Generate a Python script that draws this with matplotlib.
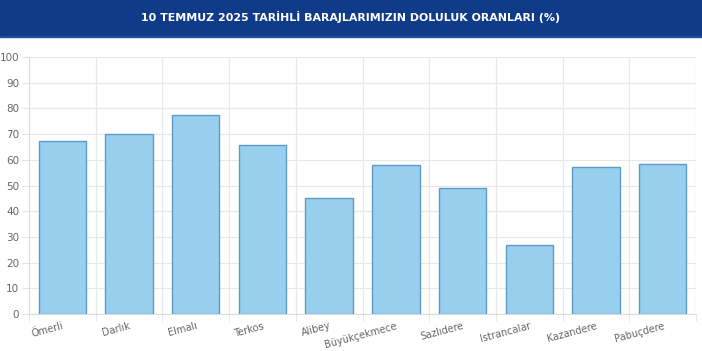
import numpy as np
import matplotlib
matplotlib.use('Agg')
import matplotlib.pyplot as plt
import matplotlib.transforms as mtransforms

title = '10 TEMMUZ 2025 TARİHLİ BARAJLARIMIZIN DOLULUK ORANLARI (%)'
dams = ['Ömerli', 'Darlık', 'Elmalı', 'Terkos', 'Alibey', 'Büyükçekmece',
        'Sazlıdere', 'Istrancalar', 'Kazandere', 'Pabuçdere']
fill_pct = [67.3, 69.9, 77.4, 65.6, 45.1, 58.0, 49.0, 26.8, 57.2, 58.4]
y_ticks = list(range(0, 101, 10))


def main():
    fig = plt.figure(figsize=(7.02, 3.51), dpi=100)
    fig.patch.set_facecolor('white')

    # title banner
    fig.patches.append(plt.Rectangle((0, 1 - 36 / 351), 1, 36 / 351,
                                     transform=fig.transFigure,
                                     color='#0f3b88', zorder=0))
    fig.patches.append(plt.Rectangle((0, 1 - 37 / 351), 1, 1.5 / 351,
                                     transform=fig.transFigure,
                                     color='#1d4f9e', zorder=1))
    fig.text(0.5, 1 - 17 / 351, title, color='white', fontsize=7.9,
             fontweight='bold', ha='center', va='center')

    ax = fig.add_axes([29 / 702, 37 / 351, 667 / 702, 257 / 351])
    x = np.arange(len(dams))
    ax.bar(x, fill_pct, width=0.71, color='#99cfee', edgecolor='#5b9cc4',
           linewidth=1.0, zorder=3)

    ax.set_xlim(-0.5, len(dams) - 0.5)
    ax.set_ylim(0, 100)
    ax.set_yticks(y_ticks)
    ax.set_xticks(x)
    ax.set_xticklabels(dams, rotation=15, ha='right', rotation_mode='anchor',
                       fontsize=7, color='#666666')
    shift = mtransforms.ScaledTranslation(3 / 100, 0, fig.dpi_scale_trans)
    for lbl in ax.get_xticklabels():
        lbl.set_transform(lbl.get_transform() + shift)
    ax.set_xticks(np.arange(-0.5, len(dams), 1), minor=True)
    ax.tick_params(axis='x', which='major', length=0, pad=5)
    ax.tick_params(axis='x', which='minor', length=5, color='#e4e4e4')
    ax.tick_params(axis='y', length=5, color='#e4e4e4', labelsize=7.5,
                   labelcolor='#666666', pad=2)
    ax.grid(True, axis='y', color='#e8e8e8', linewidth=0.9, zorder=0)
    ax.grid(True, axis='x', which='minor', color='#e8e8e8', linewidth=0.9,
            zorder=0)
    for side in ['top', 'right']:
        ax.spines[side].set_visible(False)
    ax.spines['left'].set_color('#dcdcdc')
    ax.spines['bottom'].set_color('#dcdcdc')

    fig.savefig('out.png', dpi=100)


if __name__ == '__main__':
    main()
